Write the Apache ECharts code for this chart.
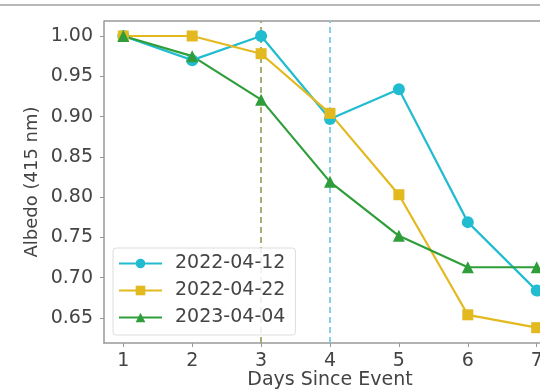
<!DOCTYPE html>
<html>
<head>
<meta charset="utf-8">
<style>
    html, body { margin: 0; padding: 0; background: #fff; }
    #chart { width: 540px; height: 389px; }
</style>
<script src="https://cdn.jsdelivr.net/npm/echarts@6/dist/echarts.min.js"></script>
</head>
<body>
<div id="chart"></div>
<script>
    // days since event
    var days = [1, 2, 3, 4, 5, 6, 7];
    // albedo at 415 nm, one array per event
    var albedo20220412 = [1.000, 0.970, 1.000, 0.897, 0.934, 0.769, 0.684];
    var albedo20220422 = [1.000, 1.000, 0.978, 0.904, 0.803, 0.654, 0.638];
    var albedo20230404 = [1.000, 0.975, 0.921, 0.819, 0.752, 0.713, 0.713];
    var seriesNames = ['2022-04-12', '2022-04-22', '2023-04-04'];
    var yTicks = [0.65, 0.70, 0.75, 0.80, 0.85, 0.90, 0.95, 1.00];
    var xTicks = [1, 2, 3, 4, 5, 6, 7];
    var eventLines = [3, 4]; // dashed vertical markers

    var font = 'DejaVu Sans';
    var myChart = echarts.init(document.getElementById('chart'));

    function pairs(arr) {
        return arr.map(function(v, i) { return [days[i], v]; });
    }

    function lineSeries(name, data, color, symbol, size, markX, markColor) {
        var s = {
            name: name,
            type: 'line',
            data: pairs(data),
            symbol: symbol,
            symbolSize: size,
            lineStyle: { color: color, width: 2.2 },
            itemStyle: { color: color },
            z: 3
        };
        if (markX !== undefined) {
            s.markLine = {
                silent: true,
                symbol: ['none', 'none'],
                label: { show: false },
                lineStyle: { color: markColor, type: [6, 4], width: 1.8 },
                data: [{ xAxis: markX }],
                z: 1
            };
        }
        return s;
    }

    var option = {
        animation: false,
        textStyle: { fontFamily: font },
        graphic: [{
            type: 'line',
            shape: { x1: 0, y1: 5, x2: 540, y2: 5 },
            style: { stroke: '#b8b8b8', lineWidth: 2 }
        }, {
            // top spine
            type: 'line',
            shape: { x1: 104, y1: 21, x2: 540, y2: 21 },
            style: { stroke: '#999', lineWidth: 1.5 }
        }],
        grid: {
            left: 104,
            top: 21,
            width: 452,
            height: 322,
            outerBoundsMode: 'none'
        },
        xAxis: {
            type: 'value',
            min: 0.72,
            max: 7.28,
            name: 'Days Since Event',
            nameLocation: 'middle',
            nameGap: 28,
            nameMoveOverlap: false,
            nameTextStyle: { fontSize: 19, color: '#444', fontFamily: font },
            axisLine: { lineStyle: { color: '#999', width: 1.5 } },
            axisTick: { show: true, length: 4, lineStyle: { color: '#999' }, customValues: xTicks },
            axisLabel: { fontSize: 19, color: '#444', margin: 9, customValues: xTicks },
            splitLine: { show: false }
        },
        yAxis: {
            type: 'value',
            min: 0.619,
            max: 1.0186,
            name: 'Albedo (415 nm)',
            nameLocation: 'middle',
            nameGap: 63,
            nameMoveOverlap: false,
            nameTextStyle: { fontSize: 18, color: '#444', fontFamily: font },
            axisLine: { show: true, lineStyle: { color: '#999', width: 1.5 } },
            axisTick: { show: true, length: 4, lineStyle: { color: '#999' }, customValues: yTicks },
            axisLabel: {
                fontSize: 19, color: '#444', margin: 11, customValues: yTicks,
                formatter: function(v) { return v.toFixed(2); }
            },
            splitLine: { show: false }
        },
        legend: {
            left: 113,
            top: 248,
            orient: 'vertical',
            itemWidth: 43,
            itemHeight: 12,
            itemGap: 8,
            padding: [6, 10, 8, 5],
            borderColor: '#ddd',
            borderWidth: 1,
            borderRadius: 3,
            backgroundColor: 'rgba(255,255,255,0.85)',
            textStyle: { fontSize: 19, color: '#444', fontFamily: font, padding: [0, 0, 0, 8] },
            data: seriesNames
        },
        series: [
            lineSeries(seriesNames[0], albedo20220412, '#22bcd0', 'circle', 12, eventLines[1], '#7ccbe0'),
            lineSeries(seriesNames[1], albedo20220422, '#e2b91e', 'rect', 11, eventLines[0], '#98a866'),
            lineSeries(seriesNames[2], albedo20230404, '#2f9e3a', 'triangle', 12)
        ]
    };

    myChart.setOption(option);
</script>
</body>
</html>
